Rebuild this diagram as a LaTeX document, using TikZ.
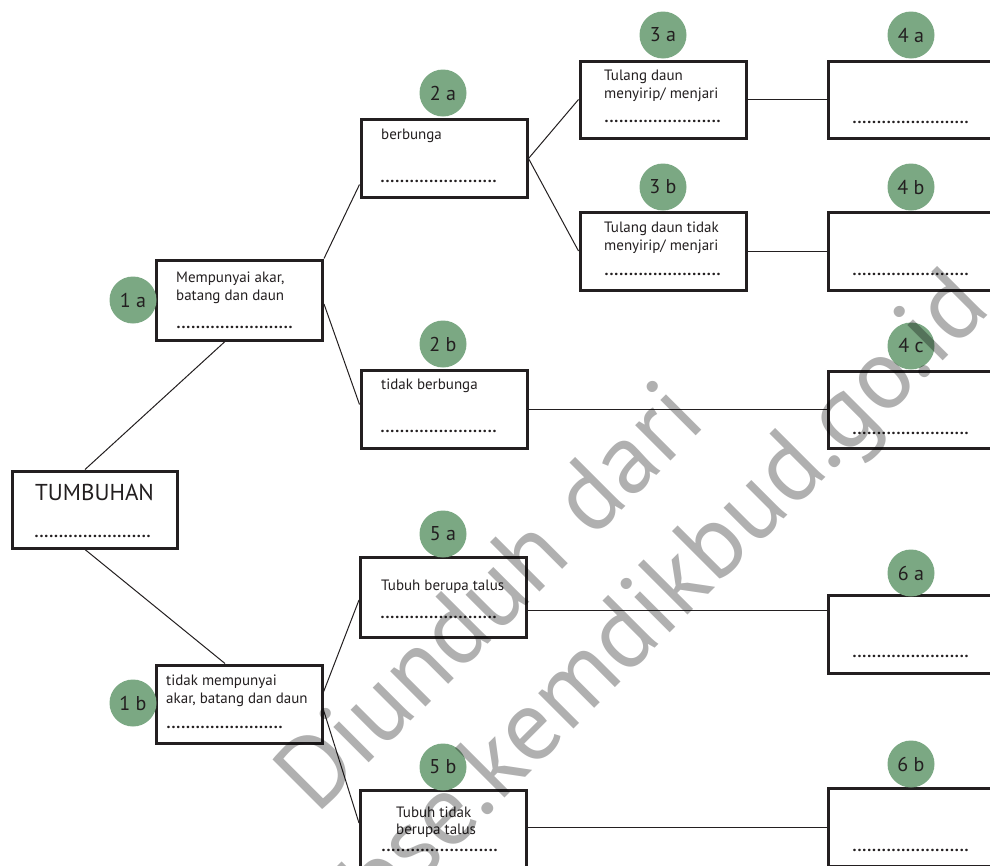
\documentclass[tikz,border=0pt]{standalone}
\usepackage{fontspec}
\setmainfont{PT Sans}
\usetikzlibrary{calc}
\definecolor{ink}{RGB}{35,31,32}
\definecolor{leaf}{RGB}{123,168,131}
% a row of dots to be filled in
\newcommand{\blankline}{\hbox to 117pt{\leaders\hbox to 4.87pt{\hss\bfseries.\hss}\hfill}}
\begin{document}
\begin{tikzpicture}[x=1pt,y=-1pt,
  box/.style={draw=ink,line width=3pt,minimum width=166pt,minimum height=78pt,inner sep=0pt,fill=white},
  badge/.style={circle,fill=leaf,minimum size=47pt,inner sep=0pt,text=ink,font=\fontsize{20}{20}\selectfont},
  txt/.style={anchor=base west,inner sep=0pt,text=ink,font=\fontsize{15}{18}\selectfont},
  dots/.style={anchor=base west,inner sep=0pt,text=ink,font=\fontsize{16}{18}\selectfont},
  link/.style={draw=ink,line width=1pt},
  wmark/.style={anchor=center,inner sep=0pt,text=black,opacity=0.31,rotate=45,font=\fontsize{100}{100}\selectfont}]
\useasboundingbox (0,0) rectangle (990,865);
\clip (0,0) rectangle (990,865);

% boxes
\node[box,minimum width=165pt,minimum height=77pt] (tum) at (94.5,509.5) {};
\node[box,minimum height=80pt] (n1a) at (239.5,300) {};
\node[box] (n1b) at (239,704) {};
\node[box] (n2a) at (444,158.5) {};
\node[box] (n2b) at (444,409.5) {};
\node[box,minimum height=80pt] (n5a) at (443.5,597) {};
\node[box,minimum height=80pt] (n5b) at (443.5,830) {};
\node[box,minimum height=77pt] (n3a) at (663,99.5) {};
\node[box] (n3b) at (663,251) {};
\node[box,minimum height=77pt] (n4a) at (911,99.5) {};
\node[box] (n4b) at (911,251) {};
\node[box,minimum height=77pt] (n4c) at (911,409.5) {};
\node[box] (n6a) at (911,634) {};
\node[box] (n6b) at (911,827) {};

% connectors
\draw[link] ([xshift=-9.5pt]tum.north) -- ([xshift=-14.5pt]n1a.south);
\draw[link] ([xshift=-9.5pt]tum.south) -- ([xshift=-14pt]n1b.north);
\draw[link] (n1a.north east) -- ([yshift=-26pt]n2a.west);
\draw[link] ([yshift=-4pt]n1a.east) -- ([yshift=5pt]n2b.west);
\draw[link] (n2a.east) -- (n3a.west);
\draw[link] (n2a.east) -- (n3b.west);
\draw[link] (n3a.east) -- (n4a.west);
\draw[link] (n3b.east) -- (n4b.west);
\draw[link] (n2b.east) -- (n4c.west);
\draw[link] ([yshift=12pt]n1b.east) -- ([yshift=-3pt]n5a.west);
\draw[link] ([yshift=-6pt]n1b.east) -- ([yshift=7pt]n5b.west);
\draw[link] ([yshift=-13pt]n5a.east) -- ([yshift=-13pt]n5a.east -| n6a.west);
\draw[link] ([yshift=3pt]n5b.east) -- ([yshift=3pt]n5b.east -| n6b.west);

% box texts
\node[txt,font=\fontsize{23}{26}\selectfont] (ttum) at (35,500) {TUMBUHAN};
\node[dots] (dtum) at (34,537) {\blankline};
\node[txt] (t1a1) at (176,282) {Mempunyai akar,};
\node[txt] (t1a2) at (176,300.5) {batang dan daun};
\node[dots] (d1a) at (176,328) {\blankline};
\node[txt] (t1b1) at (166,685) {tidak mempunyai};
\node[txt] (t1b2) at (166,703) {akar, batang dan daun};
\node[dots] (d1b) at (166,728) {\blankline};
\node[txt] (t2a) at (381,139) {berbunga};
\node[dots] (d2a) at (380,182) {\blankline};
\node[txt] (t2b) at (381,389) {tidak berbunga};
\node[dots] (d2b) at (380,432) {\blankline};
\node[txt] (t5a) at (381,590) {Tubuh berupa talus};
\node[dots] (d5a) at (380,618) {\blankline};
\node[txt] (t5b1) at (396,817) {Tubuh tidak};
\node[txt] (t5b2) at (396,834) {berupa talus};
\node[dots] (d5b) at (381,851) {\blankline};
\node[txt] (t3a1) at (604,80) {Tulang daun};
\node[txt] (t3a2) at (604,98) {menyirip/ menjari};
\node[dots] (d3a) at (604,122) {\blankline};
\node[txt] (t3b1) at (604,232) {Tulang daun tidak};
\node[txt] (t3b2) at (604,250) {menyirip/ menjari};
\node[dots] (d3b) at (604,275) {\blankline};
\node[dots] (d4a) at (852,123) {\blankline};
\node[dots] (d4b) at (852,275) {\blankline};
\node[dots] (d4c) at (852,434) {\blankline};
\node[dots] (d6a) at (852,657) {\blankline};
\node[dots] (d6b) at (852,851) {\blankline};

% numbered badges
\node[badge] (b1a) at (133,300) {1 a};
\node[badge] (b1b) at (133,703) {1 b};
\node[badge] (b2a) at (443,93) {2 a};
\node[badge] (b2b) at (443,344) {2 b};
\node[badge] (b3a) at (663,35) {3 a};
\node[badge] (b3b) at (663,187) {3 b};
\node[badge] (b4a) at (911,35) {4 a};
\node[badge] (b4b) at (911,187) {4 b};
\node[badge] (b4c) at (911,346) {4 c};
\node[badge] (b5a) at (443,534) {5 a};
\node[badge] (b5b) at (443,767) {5 b};
\node[badge] (b6a) at (911,573) {6 a};
\node[badge] (b6b) at (911,764) {6 b};

% watermark
\node[wmark] (wm1) at (488,595) {Diunduh dari};
\node[wmark] (wm2) at (669,599) {bse.kemdikbud.go.id};
\end{tikzpicture}
\end{document}
